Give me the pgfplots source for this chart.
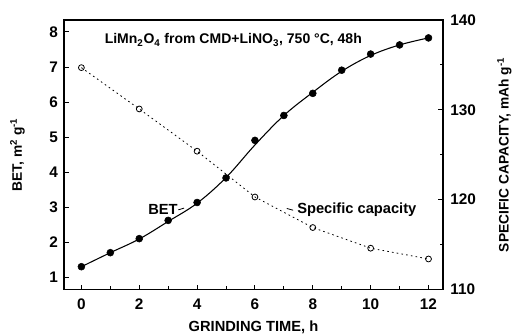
\documentclass[border=0pt]{standalone}
\usepackage{fontspec}
\setmainfont{Liberation Sans}
\usepackage{pgfplots}
\pgfplotsset{compat=1.18}
\begin{document}
\begin{tikzpicture}
\pgfplotsset{
  common/.style={
    scale only axis, width=284pt, height=202pt,
    xmin=-0.6, xmax=12.5,
    axis line style={line width=0.9pt},
    major tick length=3.5pt, minor tick length=2.5pt,
    every tick/.style={line width=0.7pt, black},
    tick label style={font=\bfseries\fontsize{11.5}{13}\selectfont},
    label style={font=\bfseries\fontsize{11}{13}\selectfont},
    ylabel style={font=\bfseries\fontsize{10.3}{12}\selectfont},
    /pgf/number format/assume math mode=true,
  }
}
\begin{axis}[common,
  ymin=0.66, ymax=8.34,
  xtick={0,2,...,12}, minor xtick={1,3,...,11},
  ytick={1,...,8},
  xtick pos=bottom, ytick pos=left,
  xlabel={GRINDING TIME, h},
  ylabel={BET, m\textsuperscript{2} g\textsuperscript{-1}},
  xlabel style={at={(axis description cs:0.5,-0.141)}, anchor=center},
  ylabel style={at={(axis description cs:-0.123,0.5)}, anchor=center},
  xticklabel style={yshift=-3.5pt},
  yticklabel style={xshift=-1pt},
]
% fitted curve
\addplot[black, line width=0.8pt, smooth, tension=0.6, no marks]
  coordinates {(0,1.31) (1,1.71) (2,2.10) (3,2.60) (4,3.12) (5,3.85) (6,4.78)
  (7,5.62) (8,6.28) (9,6.88) (10,7.33) (11,7.63) (12,7.83)};
% measured BET
\addplot[only marks, black, mark=*, mark size=2.6pt]
  coordinates {(0,1.31) (1,1.71) (2,2.11) (3,2.63) (4,3.14) (5,3.84) (6,4.91)
  (7,5.62) (8,6.25) (9,6.91) (10,7.37) (11,7.63) (12,7.83)};
\node[anchor=west, font=\bfseries\fontsize{10.5}{12}\selectfont] at (rel axis cs:0.095,0.926)
  {LiMn\textsubscript{2}O\textsubscript{4} from CMD+LiNO\textsubscript{3}, 750 °C, 48h};
\node[font=\bfseries\fontsize{11}{12}\selectfont] at (axis cs:2.82,2.94) {BET};
\draw[line width=0.6pt] (axis cs:3.35,2.93) -- (axis cs:3.55,2.98);
\node[anchor=west, font=\bfseries\fontsize{11}{12}\selectfont] at (axis cs:7.3,2.94) {Specific capacity};
\draw[line width=0.6pt] (axis cs:7.1,2.97) -- (axis cs:7.32,2.92);
\end{axis}
\begin{axis}[common,
  ymin=110, ymax=140,
  axis x line=none, axis y line*=right,
  ytick={110,120,130,140}, minor ytick={115,125,135},
  ylabel={SPECIFIC CAPACITY, mAh g\textsuperscript{-1}},
  ylabel style={at={(axis description cs:1.162,0.5)}, anchor=center, rotate=0},
  yticklabel style={xshift=2pt},
]
\addplot[black, line width=0.6pt, dash pattern=on 1.2pt off 2.4pt, mark=o, mark size=2.2pt, mark options={solid, line width=0.6pt}]
  coordinates {(0,134.7) (2,130.1) (4,125.4) (6,120.3) (8,116.9) (10,114.6) (12,113.4)};
\end{axis}
\pgfresetboundingbox
\useasboundingbox ([xshift=-48pt,yshift=-34.5pt]current axis.south west) rectangle ([xshift=54.75pt,yshift=15pt]current axis.north east);
\end{tikzpicture}
\end{document}
